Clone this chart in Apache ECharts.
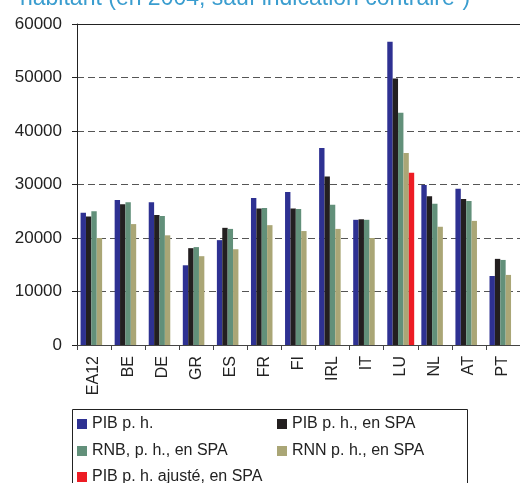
<!DOCTYPE html>
<html>
<head>
<meta charset="utf-8">
<script src="https://cdn.jsdelivr.net/npm/echarts@6/dist/echarts.min.js"></script>
<style>
html,body{margin:0;padding:0;background:#fff;}
#chart{width:520px;height:483px;}
</style>
</head>
<body>
<div id="chart"></div>
<script>
var categories = ['EA12','BE','DE','GR','ES','FR','FI','IRL','IT','LU','NL','AT','PT'];
var pibPH      = [24700,27100,26700,14900,19600,27500,28600,36800,23400,56700,29900,29200,12900];
var pibSPA     = [24000,26300,24300,18100,21900,25500,25500,31500,23500,49800,27800,27300,16100];
var rnbSPA     = [25000,26700,24100,18300,21700,25600,25400,26200,23400,43400,26400,26900,15900];
var rnnSPA     = [20000,22600,20500,16600,17900,22400,21300,21700,20000,35900,22100,23200,13100];
var pibAjSPA   = [null,null,null,null,null,null,null,null,null,32200,null,null,null];
var yTicks = [0,10000,20000,30000,40000,50000,60000];

var names = ['PIB p. h.','PIB p. h., en SPA','RNB, p. h., en SPA','RNN p. h., en SPA','PIB p. h. ajusté, en SPA'];
var colors = ['#2e3192','#231f20','#62907a','#aaa676','#ed1c24'];
var datas = [pibPH,pibSPA,rnbSPA,rnnSPA,pibAjSPA];
var legendPos = [[77,416],[277,416],[77,443],[277,443],[77,469]];

var chart = echarts.init(document.getElementById('chart'));
var series = datas.map(function(d,i){
  return {
    name: names[i], type:'bar', data:d, barGap:'0%', barCategoryGap:'21%',
    itemStyle:{color:colors[i]}, xAxisIndex:0, yAxisIndex:0
  };
});
var legendText = {fontFamily:'Liberation Sans, Arial, sans-serif', fontSize:16, color:'#222', lineHeight:16};
var legends = names.map(function(n,i){
  return {
    orient:'horizontal', left:legendPos[i][0], top:legendPos[i][1], padding:0, itemGap:5,
    itemWidth:10, itemHeight:10, icon:'rect', textStyle:legendText,
    data:[n], selectedMode:false
  };
});
chart.setOption({
  animation:false,
  textStyle:{fontFamily:'Liberation Sans, Arial, sans-serif'},
  grid:{left:77, top:24, width:445, bottom:138, containLabel:false},
  xAxis:[{
    type:'category', data:categories, position:'bottom',
    axisLine:{show:true, lineStyle:{color:'#444', width:1}},
    axisTick:{show:true, alignWithLabel:false, length:5, lineStyle:{color:'#444'}},
    axisLabel:{rotate:90, fontSize:16, color:'#222', margin:11, interval:0}
  },{
    type:'category', data:categories, position:'top',
    axisLine:{show:true, lineStyle:{color:'#222', width:1}},
    axisTick:{show:false}, axisLabel:{show:false}
  }],
  yAxis:{
    type:'value', min:0, max:60000, interval:10000,
    axisLine:{show:true, lineStyle:{color:'#222', width:1}},
    axisTick:{show:true, length:5, lineStyle:{color:'#222'}},
    axisLabel:{fontSize:17, color:'#222', margin:15, formatter:function(v){return yTicks.indexOf(v)>=0? String(v):'';}},
    splitLine:{show:true, lineStyle:{color:'#555', width:1, type:[7,4]}}
  },
  legend:legends,
  graphic:[{
    type:'rect', shape:{x:72.5, y:409.5, width:395, height:100},
    style:{fill:'none', stroke:'#222', lineWidth:1}, silent:true
  },{
    type:'text', left:20, top:-13,
    style:{text:'habitant (en 2004, sauf indication contraire\u00b9)', fill:'#3a9dcf', fontSize:23, fontFamily:'Liberation Sans, Arial, sans-serif'}
  }],
  series: series
});
</script>
</body>
</html>
